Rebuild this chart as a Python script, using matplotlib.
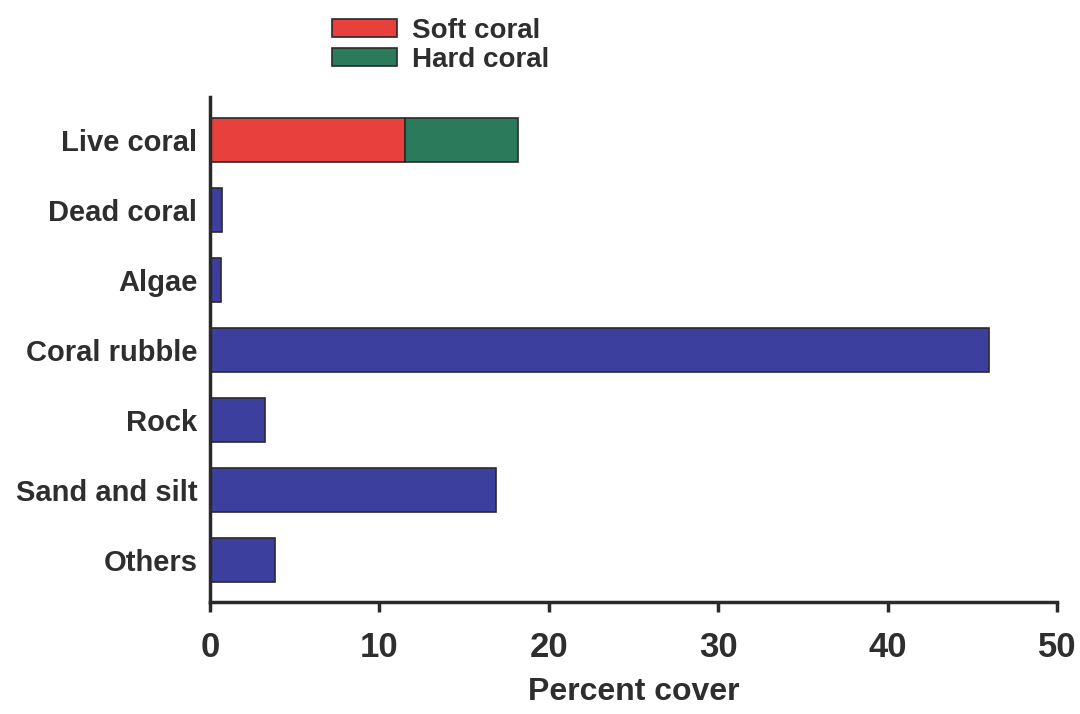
import matplotlib
matplotlib.use('Agg')
import matplotlib.pyplot as plt

categories = ['Live coral', 'Dead coral', 'Algae', 'Coral rubble', 'Rock', 'Sand and silt', 'Others']
soft_coral = 11.5
hard_coral = 6.7
other_values = [0.7, 0.65, 46.0, 3.25, 16.9, 3.85]
x_ticks = [0, 10, 20, 30, 40, 50]

RED = '#e8403c'
GREEN = '#2b7a5c'
BLUE = '#3c3f9e'
EDGE = '#2a2a2a'
TEXT = '#2e2e2e'

plt.rcParams['font.family'] = ['Liberation Sans', 'DejaVu Sans']
plt.rcParams['font.weight'] = 'bold'

fig = plt.figure(figsize=(10.8, 7.14), dpi=100)
ax = fig.add_axes([0.1944, 0.1569, 0.7843, 0.7072])

ypos = list(range(len(categories)))
h = 0.63
ax.barh(ypos[0], soft_coral, height=h, color=RED, edgecolor=EDGE, linewidth=1.2, label='Soft coral')
ax.barh(ypos[0], hard_coral, left=soft_coral, height=h, color=GREEN, edgecolor=EDGE, linewidth=1.2, label='Hard coral')
ax.barh(ypos[1:], other_values, height=h, color=BLUE, edgecolor=EDGE, linewidth=1.2)

ax.set_xlim(0, 50)
ax.set_ylim(6.6, -0.614)
ax.set_yticks(ypos)
ax.set_yticklabels(categories, fontsize=21, color=TEXT)
ax.tick_params(axis='y', length=0, pad=9)
ax.set_xticks(x_ticks)
ax.set_xticklabels([str(t) for t in x_ticks], fontsize=25, color=TEXT)
ax.tick_params(axis='x', direction='out', length=7, width=2.5, color=EDGE, pad=14)
ax.set_xlabel('Percent cover', fontsize=23, fontweight='bold', color=TEXT, labelpad=9)

for s in ['top', 'right']:
    ax.spines[s].set_visible(False)
for s in ['left', 'bottom']:
    ax.spines[s].set_linewidth(2.5)
    ax.spines[s].set_color(EDGE)

leg = fig.legend(loc='upper left', bbox_to_anchor=(0.284, 1.01), frameon=False,
                 fontsize=20, handlelength=2.35, handleheight=0.62,
                 handletextpad=0.55, labelspacing=0.1)
for t in leg.get_texts():
    t.set_color(TEXT)

fig.savefig('out.png', dpi=100)
